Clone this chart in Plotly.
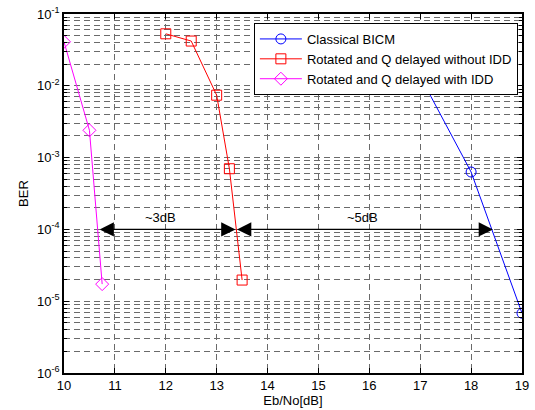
import numpy as np
import plotly.graph_objects as go

# Data
ebno_bicm = [17, 18, 19]
ber_bicm = [1.35e-2, 6.3e-4, 6.8e-6]

ebno_rot = [12, 12.5, 13, 13.25, 13.5]
ber_rot = [5.3e-2, 4.2e-2, 7.4e-3, 7.0e-4, 1.97e-5]

ebno_idd = [10, 10.5, 10.75]
ber_idd = [4.1e-2, 2.4e-3, 1.73e-5]

names = ["Classical BICM", "Rotated and Q delayed without IDD", "Rotated and Q delayed with IDD"]
colors = ["#0000ff", "#ff0000", "#ff00ff"]
symbols = ["circle-open", "square-open", "diamond-open"]

x_ticks = list(range(10, 20))
y_exps = [-6, -5, -4, -3, -2, -1]
y_ticks = [10.0 ** e for e in y_exps]
y_ticktext = ["10<sup>%d</sup>" % e for e in y_exps]
y_minor = [m * 10.0 ** e for e in y_exps[:-1] for m in range(2, 10)]

# annotations: gaps
gap_level = 1e-4
gap1 = (10.67, 13.37, "~3dB", 11.89)
gap2 = (13.37, 18.43, "~5dB", 15.87)
label_level = 1.45e-4

font_family = "Liberation Sans, Arial, Helvetica, sans-serif"

fig = go.Figure()
for xs, ys, nm, c, s in zip([ebno_bicm, ebno_rot, ebno_idd], [ber_bicm, ber_rot, ber_idd], names, colors, symbols):
    fig.add_trace(go.Scatter(
        x=xs, y=ys, name=nm, mode="lines+markers",
        line=dict(color=c, width=1),
        marker=dict(symbol=s, size=10, color=c, line=dict(color=c, width=1)),
        cliponaxis=True,
    ))

grid_col = "#6a6a6a"
fig.update_xaxes(
    range=[10, 19], tickvals=x_ticks, ticks="inside", ticklen=5, tickcolor="black",
    showline=True, linecolor="black", linewidth=1.5, mirror="allticks",
    showgrid=True, gridcolor=grid_col, griddash="6px,4px", gridwidth=1,
    zeroline=False, automargin=False,
    title=dict(text="Eb/No[dB]", font=dict(size=13, color="black"), standoff=4),
    tickfont=dict(size=13, color="black"),
)
fig.update_yaxes(
    type="log", range=[-6, -1], tickvals=y_ticks, ticktext=y_ticktext,
    ticks="inside", ticklen=5, tickcolor="black",
    showline=True, linecolor="black", linewidth=1.5, mirror="allticks",
    showgrid=True, gridcolor=grid_col, griddash="6px,4px", gridwidth=1,
    minor=dict(tickvals=y_minor, ticks="inside", ticklen=3, tickcolor="black",
               showgrid=True, gridcolor=grid_col, griddash="6px,4px", gridwidth=1),
    zeroline=False, automargin=False,
    title=dict(text="BER", font=dict(size=13, color="black"), standoff=6),
    tickfont=dict(size=13, color="black"),
)

for x0, x1, txt, xl in [gap1, gap2]:
    fig.add_annotation(
        x=x1, y=np.log10(gap_level), ax=x0, ay=np.log10(gap_level),
        xref="x", yref="y", axref="x", ayref="y",
        showarrow=True, arrowhead=2, startarrowhead=2, arrowside="end+start",
        arrowsize=2.2, startarrowsize=2.2, arrowwidth=1.3, arrowcolor="black", text="",
    )
    fig.add_annotation(
        x=xl, y=np.log10(label_level), xref="x", yref="y", text=txt, showarrow=False,
        font=dict(size=13, color="black", family=font_family), yanchor="middle",
    )

fig.update_layout(
    width=535, height=410,
    margin=dict(l=64, r=13, t=14, b=37),
    paper_bgcolor="white", plot_bgcolor="white",
    font=dict(family=font_family, size=13, color="black"),
    legend=dict(
        x=0.991, y=0.975, xanchor="right", yanchor="top",
        bgcolor="white", bordercolor="black", borderwidth=1,
        font=dict(size=13, color="black"), tracegroupgap=0,
        itemwidth=42,
    ),
    showlegend=True,
)

fig.write_html(
    "out.html",
    config={"displayModeBar": False},
    post_script="document.body.style.margin='0';document.body.style.overflow='hidden';",
)
